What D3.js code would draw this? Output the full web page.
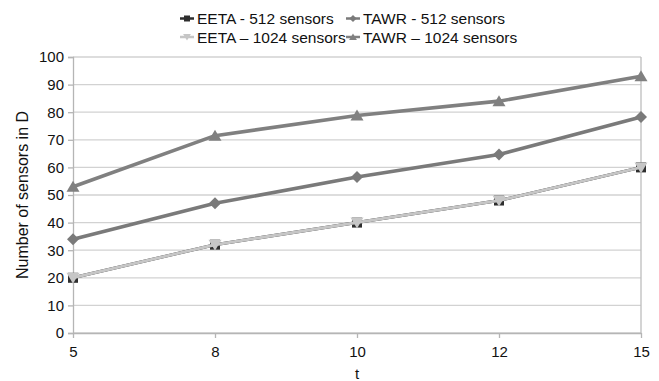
<!DOCTYPE html>
<html><head><meta charset="utf-8">
<script src="https://cdn.jsdelivr.net/npm/d3@7/dist/d3.min.js"></script>
<style>body{margin:0;background:#fff}svg{display:block}text{font-family:"Liberation Sans",Arial,sans-serif}</style>
</head><body>
<svg id="c" width="659" height="381"></svg>
<script>
const categories = ["5","8","10","12","15"];
const yTicks = [0,10,20,30,40,50,60,70,80,90,100];
const eeta512 = [20,32,40,48,60];
const tawr512 = [34,47,56.5,64.7,78.3];
const eeta1024 = [20,32,40,48,60];
const tawr1024 = [53,71.5,78.8,84,93];
const seriesNames = ["EETA - 512 sensors","TAWR - 512 sensors","EETA \u2013 1024 sensors","TAWR \u2013 1024 sensors"];

const series = [
  {name:seriesNames[0], values:eeta512, color:"#2e2e2e", marker:"square", lw:3},
  {name:seriesNames[1], values:tawr512, color:"#7a7a7a", marker:"diamond", lw:3.6},
  {name:seriesNames[2], values:eeta1024, color:"#c6c6c6", marker:"tridown", lw:3},
  {name:seriesNames[3], values:tawr1024, color:"#808080", marker:"triangle", lw:3.6}
];

const svg = d3.select("#c");
const L=73, R=641, T=57, B=333;
const x = d3.scalePoint().domain(categories).range([L,R]);
const y = d3.scaleLinear().domain([0,100]).range([B,T]);
const FONT = "Liberation Sans, Arial, sans-serif";

svg.append("g").selectAll("line").data(yTicks).join("line")
  .attr("x1",L).attr("x2",R).attr("y1",d=>y(d)).attr("y2",d=>y(d))
  .attr("stroke","#d2d2d2").attr("stroke-width",1.3);
svg.append("line").attr("x1",R).attr("x2",R).attr("y1",T).attr("y2",B)
  .attr("stroke","#bdbdbd").attr("stroke-width",1.3);

const ya = svg.append("g").attr("transform",`translate(${L},0)`)
  .call(d3.axisLeft(y).tickValues(yTicks).tickSize(5).tickPadding(4));
ya.select(".domain").attr("stroke","#b5b5b5").attr("stroke-width",1.3);
ya.selectAll(".tick line").attr("stroke","#b5b5b5").attr("stroke-width",1.3);
ya.selectAll("text").attr("font-size",15).attr("fill","#111").attr("font-family",FONT);

const xa = svg.append("g").attr("transform",`translate(0,${B})`)
  .call(d3.axisBottom(x).tickSize(5).tickPadding(8).tickSizeOuter(0));
xa.select(".domain").attr("stroke","#b5b5b5").attr("stroke-width",1.3);
xa.selectAll(".tick line").attr("stroke","#b5b5b5").attr("stroke-width",1.3);
xa.selectAll("text").attr("font-size",15).attr("fill","#111").attr("font-family",FONT);

svg.append("text").attr("transform",`translate(28,${(T+B)/2}) rotate(-90)`)
  .attr("text-anchor","middle").attr("font-size",16).attr("fill","#111").text("Number of sensors in D");
svg.append("text").attr("x",(L+R)/2).attr("y",379).attr("text-anchor","middle")
  .attr("font-size",15).attr("fill","#111").text("t");

const shapes = {
  square: "M-5,-5H5V5H-5Z",
  diamond: "M0,-6L6,0L0,6L-6,0Z",
  triangle: "M0,-6L6.5,5L-6.5,5Z",
  tridown: "M0,6L-6.5,-5L6.5,-5Z"
};
function drawMarker(g, m, color, cx, cy, scale){
  return g.append("path").attr("d", shapes[m]).attr("fill",color)
    .attr("transform",`translate(${cx},${cy}) scale(${scale||1})`);
}

const line = d3.line().x((d,i)=>x(categories[i])).y(d=>y(d));
series.forEach(s=>{
  const g = svg.append("g");
  g.append("path").attr("d",line(s.values)).attr("fill","none")
    .attr("stroke",s.color).attr("stroke-width",s.lw).attr("stroke-linejoin","round");
  s.values.forEach((v,i)=>drawMarker(g,s.marker,s.color,x(categories[i]),y(v),1));
});

const leg = [{x:187,y:18.5},{x:353,y:18.5},{x:187,y:37},{x:353,y:37}];
series.forEach((s,i)=>{
  const p = leg[i];
  svg.append("line").attr("x1",p.x-7).attr("x2",p.x+7).attr("y1",p.y).attr("y2",p.y)
    .attr("stroke",s.color).attr("stroke-width",2.5);
  drawMarker(svg,s.marker,s.color,p.x,p.y,0.6);
  svg.append("text").attr("x",p.x+10).attr("y",p.y+5.5).attr("font-size",15.5)
    .attr("fill","#111").text(s.name);
});
</script>
</body></html>
